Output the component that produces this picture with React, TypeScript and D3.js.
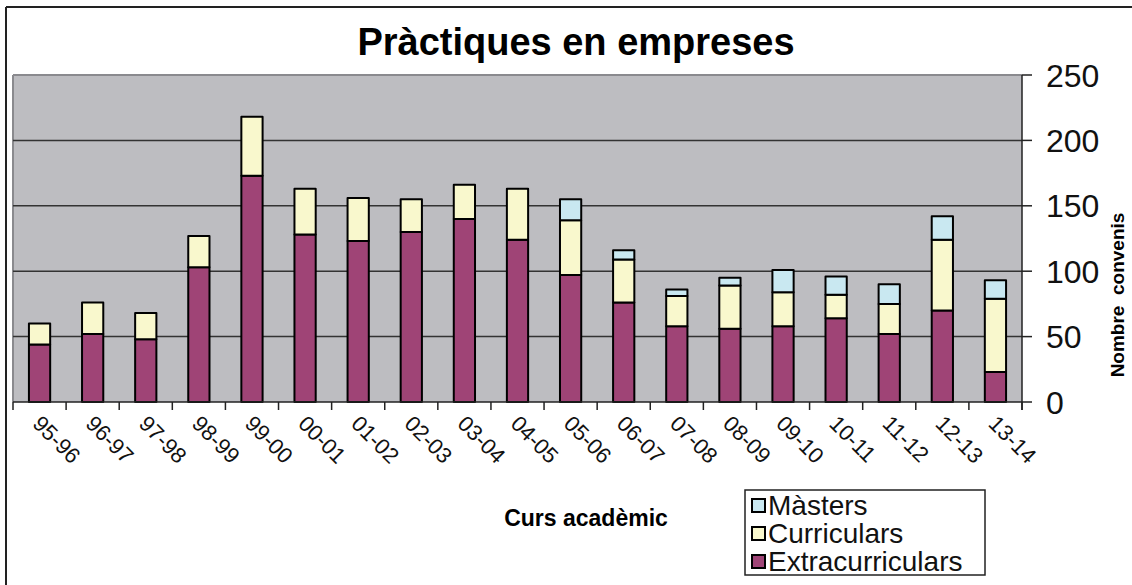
import { useMemo } from "react";
import * as d3 from "d3";

const cursos = [
  "95-96", "96-97", "97-98", "98-99", "99-00", "00-01", "01-02", "02-03", "03-04", "04-05",
  "05-06", "06-07", "07-08", "08-09", "09-10", "10-11", "11-12", "12-13", "13-14",
];
const extracurriculars = [44, 52, 48, 103, 173, 128, 123, 130, 140, 124, 97, 76, 58, 56, 58, 64, 52, 70, 23];
const curriculars = [16, 24, 20, 24, 45, 35, 33, 25, 26, 39, 42, 33, 23, 33, 26, 18, 23, 54, 56];
const masters = [0, 0, 0, 0, 0, 0, 0, 0, 0, 0, 16, 7, 5, 6, 17, 14, 15, 18, 14];
const yTicks = [0, 50, 100, 150, 200, 250];

const seriesKeys = ["extra", "curr", "mast"];
const seriesColors: Record<string, string> = {
  extra: "#9f4476",
  curr: "#f9f8cd",
  mast: "#c9e8f1",
};
const legendItems = [
  { key: "mast", label: "Màsters" },
  { key: "curr", label: "Curriculars" },
  { key: "extra", label: "Extracurriculars" },
];

const W = 1132;
const H = 585;
const font = "'Liberation Sans', Arial, sans-serif";

export default function App() {
  const left = 13;
  const right = 1022;
  const top = 75;
  const bottom = 402;

  const x = useMemo(
    () => d3.scaleBand().domain(cursos).range([left, right]).paddingInner(0.6).paddingOuter(0.3),
    []
  );
  const y = useMemo(() => d3.scaleLinear().domain([0, 250]).range([bottom, top]), []);

  const stacked = useMemo(() => {
    const rows = cursos.map((c, i) => ({
      curs: c,
      extra: extracurriculars[i],
      curr: curriculars[i],
      mast: masters[i],
    }));
    return d3.stack<any>().keys(seriesKeys)(rows);
  }, []);

  const step = x.step();
  const boundaries = d3.range(cursos.length + 1).map((i) => left + i * step);

  return (
    <svg width={W} height={H} style={{ position: "absolute", left: 0, top: 0, background: "#fff" }}>
      {/* chart border */}
      <line x1={6} y1={7} x2={W} y2={7} stroke="#222" strokeWidth={2} />
      <line x1={6} y1={7} x2={6} y2={H} stroke="#222" strokeWidth={2} />

      <text x={576} y={55} textAnchor="middle" fontFamily={font} fontWeight="bold" fontSize={38}>
        Pràctiques en empreses
      </text>

      {/* plot area */}
      <rect x={left} y={top} width={right - left} height={bottom - top} fill="#bdbdc1" />
      <line x1={left} y1={top} x2={right} y2={top} stroke="#8a8a8e" strokeWidth={2} />
      <line x1={left} y1={top} x2={left} y2={bottom} stroke="#8a8a8e" strokeWidth={2} />

      {yTicks
        .filter((t) => t > 0 && t < 250)
        .map((t) => (
          <line key={t} x1={left} x2={right} y1={y(t)} y2={y(t)} stroke="#333" strokeWidth={1.5} />
        ))}

      {stacked.map((s) =>
        s
          .filter((d) => d[1] - d[0] > 0)
          .map((d) => (
            <rect
              key={s.key + d.data.curs}
              x={x(d.data.curs)}
              y={y(d[1])}
              width={x.bandwidth()}
              height={y(d[0]) - y(d[1])}
              fill={seriesColors[s.key]}
              stroke="#000"
              strokeWidth={2}
              strokeLinejoin="round"
            />
          ))
      )}

      {/* x axis */}
      <line x1={left} x2={right} y1={bottom} y2={bottom} stroke="#222" strokeWidth={1.5} />
      {boundaries.map((b, i) => (
        <line key={i} x1={b} x2={b} y1={bottom} y2={bottom + 8} stroke="#222" strokeWidth={1.5} />
      ))}
      {cursos.map((c) => {
        const cx = (x(c) ?? 0) + x.bandwidth() / 2 - 4;
        const cy = bottom + 19;
        return (
          <text
            key={c}
            x={cx}
            y={cy}
            transform={`rotate(45 ${cx} ${cy})`}
            fontFamily={font}
            fontSize={22}
            dominantBaseline="middle"
            fill="#111"
          >
            {c}
          </text>
        );
      })}

      {/* right y axis */}
      <line x1={right} x2={right} y1={top} y2={bottom + 8} stroke="#222" strokeWidth={1.5} />
      {yTicks.map((t) => (
        <g key={t}>
          <line x1={right} x2={right + 10} y1={y(t)} y2={y(t)} stroke="#222" strokeWidth={1.5} />
          <text x={1046} y={y(t)} dy="0.36em" fontFamily={font} fontSize={32} fill="#111">
            {t}
          </text>
        </g>
      ))}

      <text
        transform={`translate(1124 ${295}) rotate(-90)`}
        textAnchor="middle"
        fontFamily={font}
        fontWeight="bold"
        fontSize={19}
        style={{ whiteSpace: "pre" }}
      >
        Nombre  convenis
      </text>

      <text x={586} y={526} textAnchor="middle" fontFamily={font} fontWeight="bold" fontSize={23}>
        Curs acadèmic
      </text>

      {/* legend */}
      <rect x={745} y={490} width={240} height={85} fill="#fff" stroke="#222" strokeWidth={1.5} />
      {legendItems.map((it, i) => (
        <g key={it.key} transform={`translate(752 ${505 + i * 28})`}>
          <rect x={0} y={-6} width={13} height={13} fill={seriesColors[it.key]} stroke="#000" strokeWidth={2} />
          <text x={16} y={0} dy="0.36em" fontFamily={font} fontSize={28} fill="#111">
            {it.label}
          </text>
        </g>
      ))}
    </svg>
  );
}
